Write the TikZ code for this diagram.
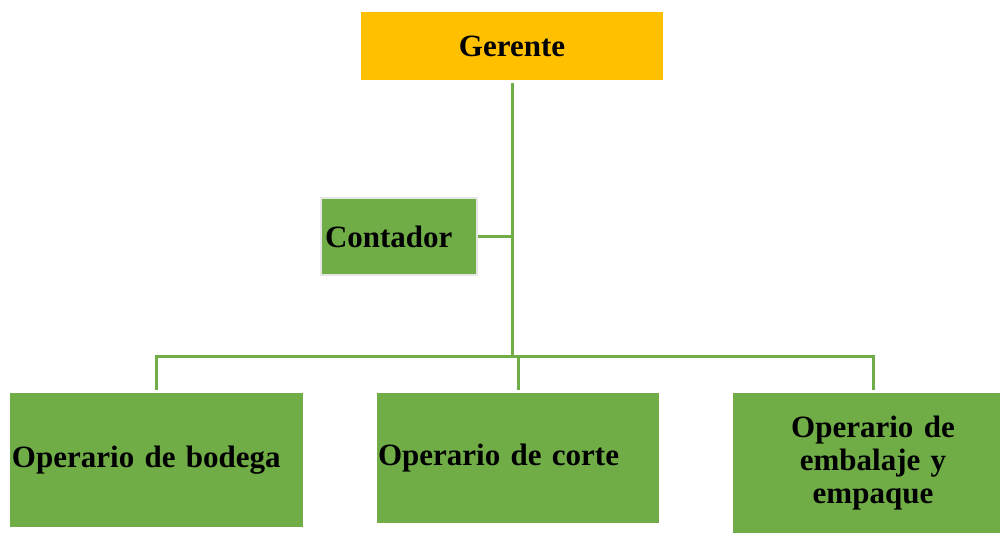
\documentclass[tikz,border=0pt]{standalone}
\usepackage{fontspec}
\setmainfont{Liberation Serif}
\definecolor{gold}{HTML}{FFC000}
\definecolor{leaf}{HTML}{70AD47}
\definecolor{pale}{HTML}{E7E6E6}
\begin{document}
\begin{tikzpicture}[x=1pt,y=-1pt,
  box/.style={rectangle, fill=leaf, inner ysep=0pt, font=\bfseries\fontsize{31}{33}\selectfont, text=black},
  conn/.style={draw=leaf, line width=3pt}]
\useasboundingbox (0,0) rectangle (1000,533);
\fill[white] (0,0) rectangle (1000,533);
\node[box, fill=gold, minimum width=302pt, minimum height=68pt, inner xsep=0pt] (ger) at (512,46) {Gerente};
\node[box, draw=pale, line width=2pt, minimum width=156pt, minimum height=77pt, inner xsep=4pt, text width=148pt, align=left] (cont) at (399,236.5) {Contador};
\node[box, minimum width=293pt, minimum height=134pt, inner xsep=2pt, text width=289pt, align=left] (bod) at (156.5,460) {Operario de bodega};
\node[box, minimum width=282pt, minimum height=130pt, inner xsep=1pt, text width=280pt, align=left] (cor) at (518,458) {Operario de corte};
\node[box, minimum width=280pt, minimum height=140pt, inner xsep=0pt, text width=220pt, align=center] (emb) at (873,463) {Operario de\\embalaje y\\empaque};
\coordinate (hub) at (512,356);
\draw[conn] ([yshift=-3pt]ger.south) -- (hub);
\draw[conn] (cont.east) -- (cont.east -| hub);
\draw[conn] ([yshift=3pt]bod.north) -- (bod.north |- hub) -- (emb.north |- hub) -- ([yshift=3pt]emb.north);
\draw[conn] ([yshift=3pt]cor.north) -- (cor.north |- hub);
\end{tikzpicture}
\end{document}
